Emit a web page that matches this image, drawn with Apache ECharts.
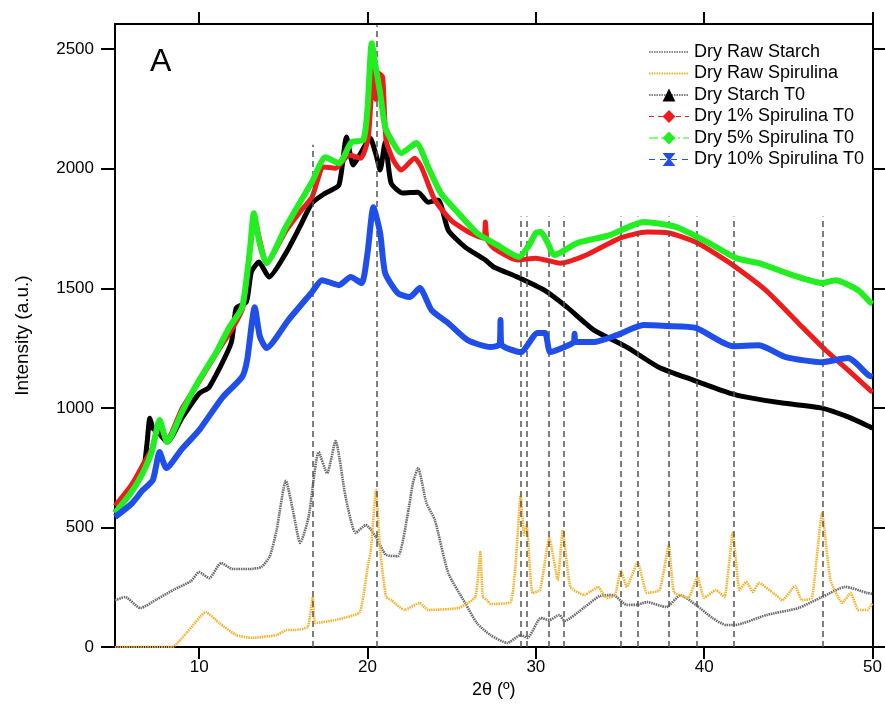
<!DOCTYPE html>
<html><head><meta charset="utf-8">
<script src="https://cdn.jsdelivr.net/npm/echarts@6/dist/echarts.min.js"></script>
<style>html,body{margin:0;padding:0;background:#fff}#c{width:885px;height:714px}</style>
</head><body><div id="c"></div>
<script>
// ---- data ----
const rawStarchX = [5, 5.6, 6.5, 7.5, 8.5, 9.5, 10.0, 10.6, 11.3, 12.0, 13.0, 13.7, 14.2, 14.6, 15.15, 15.6, 16.0, 16.5, 17.1, 17.6, 18.1, 18.7, 19.3, 19.9, 20.5, 21.1, 21.8, 22.4, 22.7, 23.0, 23.5, 24.0, 24.8, 25.8, 26.5, 27.3, 28.3, 29.1, 29.5, 30.3, 30.8, 31.4, 31.7, 32.9, 33.8, 34.6, 35.4, 36.0, 36.6, 37.75, 38.6, 39.5, 40.5, 41.3, 41.8, 43.7, 45.6, 47.0, 48.4, 49.7, 50];
const rawStarchY = [195, 209, 163, 200, 240, 275, 313, 288, 351, 326, 326, 335, 380, 489, 695, 560, 435, 543, 815, 727, 861, 627, 477, 510, 460, 385, 380, 560, 686, 748, 602, 531, 309, 184, 100, 50, 17, 50, 38, 121, 113, 134, 109, 167, 213, 217, 176, 176, 188, 167, 217, 176, 121, 92, 92, 134, 163, 209, 251, 226, 222];

const rawSpirX = [5, 8.4, 9.25, 10.4, 11.2, 12.2, 13.15, 14.6, 15.2, 15.7, 16.45, 16.75, 16.9, 18.1, 19.5, 19.7, 20.05, 20.2, 20.5, 20.75, 21.1, 21.4, 22.2, 23.1, 23.6, 25.4, 26.4, 26.7, 26.85, 27.1, 27.3, 28.5, 28.8, 29.1, 29.3, 29.45, 29.8, 30.25, 30.8, 31.3, 31.6, 32.05, 32.9, 33.2, 33.7, 34.2, 34.7, 35.05, 35.4, 36.05, 36.6, 37.35, 37.9, 38.2, 39.05, 39.6, 40.0, 40.7, 41.2, 41.7, 42.1, 42.5, 42.9, 43.25, 44.1, 44.65, 45.4, 45.8, 46.4, 47.0, 47.5, 48.2, 48.7, 49.15, 49.7, 50];
const rawSpirY = [0, 0, 59, 146, 100, 50, 38, 50, 71, 71, 84, 209, 100, 113, 142, 190, 351, 405, 656, 405, 209, 196, 155, 184, 155, 163, 209, 397, 209, 196, 180, 188, 351, 635, 468, 510, 226, 238, 456, 280, 489, 251, 217, 230, 251, 205, 217, 320, 251, 355, 226, 238, 426, 230, 205, 293, 205, 238, 209, 477, 238, 272, 230, 268, 226, 196, 255, 196, 205, 560, 280, 184, 226, 155, 155, 184];

const starchT0X = [5, 5.8, 6.65, 6.9, 7.07, 7.25, 7.55, 8.1, 9.0, 10.0, 10.6, 11.9, 12.2, 12.8, 13.1, 13.55, 14.15, 15.15, 16.0, 16.7, 17.5, 18.3, 18.75, 19.15, 19.6, 20.15, 20.5, 20.75, 21.05, 21.4, 22.1, 23.0, 23.6, 24.2, 24.8, 25.8, 27.0, 27.5, 28.9, 30.5, 31.85, 33.45, 35.4, 37.3, 39.35, 41.5, 42.5, 44.65, 47.0, 48.55, 49.75, 50];
const starchT0Y = [564, 640, 727, 850, 957, 915, 899, 857, 960, 1060, 1087, 1271, 1417, 1442, 1568, 1610, 1547, 1647, 1760, 1856, 1898, 1931, 2132, 2015, 2065, 2128, 2060, 1994, 2111, 1940, 1898, 1902, 1860, 1869, 1743, 1672, 1618, 1589, 1547, 1492, 1421, 1325, 1254, 1170, 1116, 1062, 1045, 1020, 999, 962, 924, 915];

const spir1X = [5, 6.0, 6.65, 7.2, 7.6, 8.1, 9.0, 10.0, 11.0, 12.0, 12.6, 13.0, 13.3, 13.6, 14.0, 15.15, 16.0, 16.7, 17.4, 18.1, 18.9, 19.6, 20.05, 20.35, 20.5, 20.65, 20.9, 21.1, 21.5, 22.0, 22.8, 23.2, 24.0, 24.95, 26.1, 26.9, 27.0, 27.1, 27.5, 28.9, 30.0, 31.45, 33.0, 35.0, 36.6, 37.9, 39.5, 41.7, 43.65, 45.6, 47.2, 48.55, 49.85, 50];
const spir1Y = [590, 680, 761, 830, 928, 870, 1000, 1110, 1225, 1335, 1420, 1650, 1790, 1700, 1605, 1740, 1820, 1881, 2007, 2002, 2057, 2044, 2132, 2441, 2290, 2400, 2383, 2120, 2040, 1994, 2044, 2007, 1869, 1785, 1731, 1710, 1777, 1705, 1668, 1618, 1626, 1605, 1639, 1710, 1735, 1731, 1693, 1597, 1492, 1354, 1242, 1158, 1074, 1065];

const spir5X = [5, 6.0, 6.7, 7.2, 7.65, 8.1, 9.0, 10.0, 11.0, 11.8, 12.55, 13.0, 13.25, 13.55, 14.0, 15.15, 16.0, 16.7, 17.5, 18.3, 19.05, 19.75, 20.0, 20.25, 20.5, 20.75, 21.05, 21.5, 22.0, 22.9, 23.6, 24.35, 25.4, 26.5, 27.7, 29.0, 29.6, 30.0, 30.3, 30.7, 31.1, 32.45, 34.4, 36.4, 38.35, 40.3, 41.9, 43.25, 45.25, 47.0, 47.8, 49.15, 49.85, 50];
const spir5Y = [560, 650, 735, 820, 949, 857, 985, 1116, 1230, 1338, 1421, 1650, 1814, 1700, 1605, 1756, 1860, 1944, 2048, 2023, 2111, 2120, 2250, 2525, 2420, 2316, 2174, 2110, 2065, 2107, 2007, 1898, 1814, 1731, 1681, 1631, 1680, 1731, 1735, 1690, 1639, 1689, 1722, 1777, 1756, 1689, 1626, 1605, 1555, 1522, 1534, 1492, 1442, 1435];

const spir10X = [5, 6.0, 6.65, 7.25, 7.65, 8.05, 9.0, 10.0, 11.4, 12.55, 12.85, 13.3, 13.6, 14.0, 15.3, 16.7, 17.3, 18.3, 19.0, 19.65, 20.0, 20.35, 20.75, 21.05, 21.8, 22.5, 23.1, 23.8, 24.8, 25.95, 27.3, 27.85, 27.9, 27.95, 29.1, 30.1, 30.55, 30.85, 31.7, 32.25, 32.3, 32.35, 33.45, 34.8, 36.4, 37.75, 39.5, 41.7, 43.25, 44.85, 47.0, 48.55, 49.75, 50];
const spir10Y = [543, 600, 656, 698, 815, 748, 830, 907, 1045, 1129, 1200, 1421, 1300, 1250, 1367, 1484, 1534, 1513, 1547, 1522, 1647, 1839, 1731, 1563, 1480, 1463, 1501, 1409, 1354, 1283, 1254, 1265, 1367, 1265, 1233, 1313, 1313, 1233, 1254, 1275, 1310, 1275, 1275, 1304, 1346, 1342, 1334, 1258, 1262, 1212, 1191, 1208, 1137, 1130];

const xTicks = [10, 20, 30, 40, 50];
const yTicks = [0, 500, 1000, 1500, 2000, 2500];
const refLineX = [16.74, 20.52, 29.08, 29.45, 30.79, 31.68, 35.05, 36.03, 37.9, 39.57, 41.78, 47.04];
const refLineTop = [2100, 2600, 1800, 1800, 1800, 1800, 1800, 1800, 1800, 1800, 1800, 1800];

const names = ['Dry Raw Starch', 'Dry Raw Spirulina', 'Dry Starch T0', 'Dry 1% Spirulina T0', 'Dry 5% Spirulina T0', 'Dry 10% Spirulina T0'];

// ---- chart ----
function pairs(xs, ys) { return xs.map((x, i) => [x, ys[i]]); }
const FONT = "'Liberation Sans', Arial, sans-serif";
const X_MIN = 5, X_MAX = 50, Y_MIN = 0, Y_MAX = 2605;
const hourglass = 'path://M0,0 L10,0 L6,5 L10,10 L0,10 L4,5 Z';

const chart = echarts.init(document.getElementById('c'), null, { renderer: 'canvas' });

function xAxisCfg(pos, labels) {
  return {
    type: 'value', position: pos, min: X_MIN, max: X_MAX,
    axisLine: { show: true, onZero: false, lineStyle: { color: '#000', width: 2 } },
    axisTick: { show: true, inside: false, length: 12, lineStyle: { color: '#000', width: 2 }, customValues: xTicks },
    axisLabel: { show: labels, customValues: xTicks, margin: 12, color: '#000', fontSize: 17, fontFamily: FONT,
      formatter: v => String(v) },
    splitLine: { show: false },
    name: labels ? '2θ (º)' : '', nameLocation: 'middle', nameGap: 33,
    nameTextStyle: { fontSize: 18, fontFamily: FONT, color: '#000' }
  };
}
function yAxisCfg(pos, labels) {
  return {
    type: 'value', position: pos, min: Y_MIN, max: Y_MAX,
    axisLine: { show: true, onZero: false, lineStyle: { color: '#000', width: 2 } },
    axisTick: { show: true, inside: false, length: 14, lineStyle: { color: '#000', width: 2 }, customValues: yTicks },
    axisLabel: { show: labels, customValues: yTicks, margin: 21, color: '#000', fontSize: 17, fontFamily: FONT,
      formatter: v => String(v) },
    splitLine: { show: false },
    name: labels ? 'Intensity (a.u.)' : '', nameLocation: 'middle', nameGap: 83,
    nameTextStyle: { fontSize: 19, fontFamily: FONT, color: '#000' }
  };
}

const markData = refLineX.map((x, i) => [{ coord: [x, 0] }, { coord: [x, refLineTop[i]] }]);

const option = {
  animation: false,
  backgroundColor: '#fff',
  grid: { left: 115, right: 8, top: 24, bottom: 67, containLabel: false },
  xAxis: [xAxisCfg('bottom', true), xAxisCfg('top', false)],
  yAxis: [yAxisCfg('left', true), yAxisCfg('right', false)],
  graphic: [{ type: 'text', left: 150, top: 46, style: { text: 'A', fontSize: 32, fontFamily: FONT, fill: '#000' } }],
  legend: {
    orient: 'vertical', left: 643, top: 38, itemWidth: 40, itemHeight: 16, itemGap: 3.5,
    textStyle: { fontSize: 18, fontFamily: FONT, color: '#000' },
    data: [
      { name: names[0], lineStyle: { color: '#888', width: 2, type: [1.5, 1] }, itemStyle: { opacity: 0 } },
      { name: names[1], lineStyle: { color: '#f2b331', width: 2, type: [1.5, 1] }, itemStyle: { opacity: 0 } },
      { name: names[2], lineStyle: { color: '#000', width: 1, type: [1.5, 1] } },
      { name: names[3], lineStyle: { color: '#ee1c1c', width: 1.2, type: [5, 4] } },
      { name: names[4], lineStyle: { color: '#22ee22', width: 1.2, type: [9, 3, 2, 3] } },
      { name: names[5], lineStyle: { color: '#1f4fe8', width: 1.2, type: [6, 5] } }
    ]
  },
  series: [
    { name: 'refs', type: 'line', data: [], silent: true,
      markLine: { silent: true, symbol: ['none', 'none'], label: { show: false }, animation: false,
        lineStyle: { color: '#555', width: 1.5, type: [6, 4] }, emphasis: { disabled: true }, data: markData } },
    { name: names[0], type: 'line', data: pairs(rawStarchX, rawStarchY), symbol: 'none', color: '#6a6a6a',
      smooth: 0.2, lineStyle: { color: '#6a6a6a', width: 2.6, type: [1.5, 0.8] }, z: 2 },
    { name: names[1], type: 'line', data: pairs(rawSpirX, rawSpirY), symbol: 'none', color: '#f2b331',
      smooth: 0.15, lineStyle: { color: '#f2b331', width: 2.6, type: [1.5, 0.8] }, z: 2 },
    { name: names[2], type: 'line', data: pairs(starchT0X, starchT0Y), symbol: 'triangle', showSymbol: false, color: '#000',
      smooth: 0.2, lineStyle: { color: '#000', width: 5 }, z: 3 },
    { name: names[3], type: 'line', data: pairs(spir1X, spir1Y), symbol: 'diamond', showSymbol: false, color: '#ee1c1c',
      smooth: 0.2, lineStyle: { color: '#ee1c1c', width: 5 }, z: 4 },
    { name: names[4], type: 'line', data: pairs(spir5X, spir5Y), symbol: 'diamond', showSymbol: false, color: '#22ee22',
      smooth: 0.2, lineStyle: { color: '#22ee22', width: 6 }, z: 5 },
    { name: names[5], type: 'line', data: pairs(spir10X, spir10Y), symbol: hourglass, showSymbol: false, color: '#1f4fe8',
      smooth: 0.2, lineStyle: { color: '#1f4fe8', width: 6 }, z: 6 }
  ]
};
chart.setOption(option);
</script>
</body></html>
